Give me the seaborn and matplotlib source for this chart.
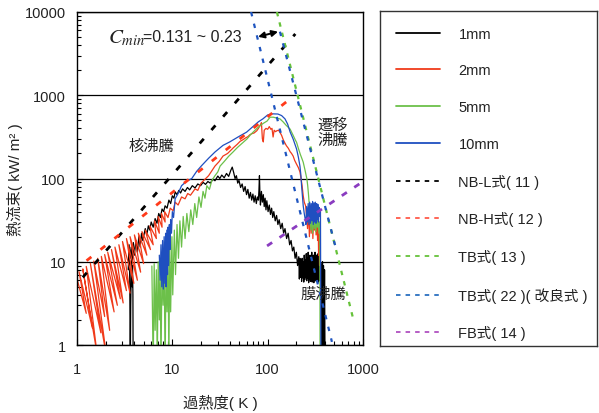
import matplotlib
matplotlib.use("Agg")
import matplotlib.pyplot as plt
import seaborn as sns
import pandas as pd
from matplotlib.lines import Line2D
from matplotlib.ticker import FixedLocator, FixedFormatter, LogLocator, NullFormatter

# ---------------- data ----------------
# experimental boiling curves: (superheat K, heat flux kW/m2)
curve_1mm = [
    (3.88, 0.5), (3.86, 4), (3.82, 9), (3.78, 5), (3.74, 12), (3.7, 7), (3.66, 3), (3.62, 0.5),
    (3.58, 5), (3.55, 10), (3.5, 13), (3.46, 8), (3.52, 16), (3.6, 11), (3.7, 15), (3.8, 10),
    (3.9, 17), (4.0, 12), (4.15, 18), (4.3, 13), (4.45, 20), (4.6, 15), (4.75, 22), (4.9, 18),
    (5.2, 25), (5.4, 21), (5.6, 27), (5.8, 24), (6.0, 30), (6.3, 26), (6.6, 33), (6.9, 29),
    (7.2, 38), (7.5, 34), (7.8, 43), (8.1, 40), (8.4, 47), (8.8, 44), (9.2, 55), (9.6, 50),
    (10.0, 62), (10.4, 58), (10.7, 69), (11.2, 64), (11.7, 72), (12.2, 67), (12.8, 75), (13.6, 70),
    (14.4, 78), (15.2, 73), (16.2, 82), (17.3, 77), (18.5, 86), (19.8, 82), (21, 90), (22.3, 85),
    (23.6, 92), (25, 88), (26.7, 98), (28, 94), (30, 107), (31.5, 100), (33, 110), (35, 102),
    (37, 115), (39, 106), (41, 125), (42.5, 137), (44, 118), (45.5, 100), (47, 108), (48.5, 88),
    (50, 95), (52, 78), (54, 86), (56, 70), (58, 80), (60, 64), (62, 74), (64, 58), (66, 68),
    (68, 55), (70, 65), (72, 52), (74, 62), (76, 50), (78, 60), (80, 55), (81, 72), (82, 108),
    (83, 62), (84, 48), (86, 70), (88, 52), (90, 64), (92, 46), (94, 58), (96, 42), (98, 54),
    (101, 40), (104, 48), (107, 37), (110, 44), (113, 34), (116, 40), (120, 31), (124, 36),
    (128, 28), (132, 32), (137, 25), (142, 29), (147, 22), (152, 25), (158, 19), (164, 22),
    (170, 16), (176, 18), (182, 13.5), (188, 15), (194, 11), (200, 13), (206, 9), (212, 11.5),
    (215, 6.2), (218, 11), (221, 6.5), (224, 10.5), (227, 5.8), (230, 11), (233, 6.4), (236, 10),
    (239, 5.7), (242, 12), (245, 6.1), (248, 10.5), (251, 6.6), (254, 12.5), (257, 5.9), (260, 11),
    (263, 6.3), (266, 13), (269, 5.6), (272, 10), (275, 6.2), (278, 12), (281, 5.8), (284, 11),
    (287, 6.5), (290, 13), (293, 5.7), (296, 10.5), (299, 6.3), (302, 12), (305, 5.6), (308, 11),
    (311, 6.4), (314, 13), (317, 5.9), (320, 10), (323, 6.6), (326, 12), (329, 5.8), (332, 11),
    (335, 6.2), (338, 12.5), (341, 5.7), (344, 10), (347, 6.3), (350, 11), (353, 5.9), (356, 10),
    (359, 6.4), (362, 9.5), (365, 6.0), (368, 9),
    (372, 0.5), (376, 10), (380, 0.5), (385, 9), (390, 0.5), (395, 8), (400, 0.5),
]
curve_2mm = [
    (0.98, 6.8), (1.25, 2.4), (1.05, 7.6), (1.45, 1.6), (1.15, 8.2), (1.62, 0.8), (1.25, 8.8),
    (1.78, 1.4), (1.38, 9.6), (2.05, 0.7), (1.5, 10.2), (1.95, 2.2), (1.65, 11.0), (2.2, 1.5),
    (1.8, 11.6), (2.45, 2.5), (1.95, 12.2), (2.65, 3.0), (2.1, 13.0), (2.85, 3.6), (2.3, 14.0),
    (3.05, 3.2), (2.5, 15.0), (3.3, 4.5), (2.75, 16.0), (3.6, 4.2), (3.0, 17.5), (3.95, 5.5),
    (3.3, 19.0), (4.3, 6.0), (3.6, 20.0), (4.65, 7.5), (4.0, 21.0), (5.0, 9.5), (4.4, 22.0),
    (5.4, 12.0), (4.8, 23.0), (5.9, 14.0), (5.2, 24.0), (6.3, 16.0), (5.8, 27.0), (6.8, 19.0),
    (6.5, 31.0), (7.3, 22.0), (7.1, 35.0), (7.8, 26.0), (7.7, 38.0), (8.4, 30.0), (8.3, 40.0),
    (9.0, 34.0), (9.5, 44), (10.2, 41), (10.7, 52), (11.5, 48), (12.5, 60), (13.6, 57),
    (14.5, 66), (15.5, 63), (17.3, 75), (18.5, 72), (20, 88), (22, 98), (24, 108), (26, 124),
    (28, 141), (31, 160), (34, 186), (38, 200), (40, 212), (44, 236), (48, 258), (51.5, 280),
    (55, 292), (58, 305), (62, 318), (65, 335), (68, 345), (72, 352), (77, 375), (80, 400),
    (83, 430), (86, 470), (88, 300), (90, 275), (92, 380), (96, 400), (100, 390), (104, 420),
    (108, 390), (111, 400), (114, 315), (117, 380), (121, 365), (125, 375), (130, 380),
    (134, 362), (140, 330), (146, 290), (152, 265), (157, 248), (165, 230), (172, 210),
    (178, 200), (185, 186), (192, 165), (200, 150), (210, 135), (218, 120), (224, 100),
    (230, 81), (236, 62), (242, 52), (250, 47), (256, 36),
    (262, 25), (268, 44), (274, 20), (280, 42), (286, 22), (292, 46), (298, 19), (304, 40),
    (310, 24), (316, 45), (322, 21), (328, 38), (334, 18), (338, 42), (342, 12), (346, 30),
    (350, 9),
]
curve_5mm = [
    (6.1, 8.9), (6.3, 0.5), (6.45, 9.5), (6.6, 1.5), (6.8, 8.0), (6.95, 0.5), (7.1, 10.0),
    (7.3, 2.0), (7.45, 9.0), (7.6, 0.5), (7.8, 10.5), (8.0, 3.0), (8.2, 11.0), (8.4, 0.5),
    (8.6, 12.0), (8.8, 2.5), (9.0, 14.0), (9.2, 0.6), (9.4, 17.0), (9.6, 2.5), (9.9, 20.0),
    (10.1, 4.0), (10.5, 24.0), (10.8, 7.0), (11.2, 28.0), (11.6, 11.0), (12.0, 31.0),
    (12.5, 15.0), (13.0, 35.0), (13.6, 19.0), (14.2, 38.0), (14.9, 23.0), (15.6, 42.0),
    (16.4, 28.0), (17.2, 50.0), (18.0, 34.0), (19.0, 60.0), (20.0, 45.0), (21.0, 70.0),
    (22.0, 58.0), (23.0, 82.0), (24.5, 74.0), (26, 95), (28, 108), (30, 120), (31.7, 141),
    (35, 160), (39, 185), (43.3, 208), (48, 235), (54, 265), (60.6, 298), (66, 335), (72, 370),
    (78, 405), (83, 430), (90, 460), (98.6, 490), (106, 545), (115, 545), (125, 530),
    (134.6, 520), (145, 480), (155, 440), (165, 410), (172, 392), (185, 330), (195, 290),
    (201, 272), (210, 230), (220, 195), (228, 175), (236, 157), (245, 130), (252, 112),
    (258, 98.6), (263, 82), (267, 68), (272, 52), (278, 39.7),
    (284, 24), (290, 42), (296, 22), (302, 40), (308, 25), (314, 43), (320, 23), (326, 38),
    (332, 26), (338, 35), (345, 22), (352, 30), (355, 0.5),
]
curve_10mm = [
    (7.3, 12), (7.45, 6), (7.6, 16), (7.75, 5), (7.9, 18), (8.05, 4.7), (8.2, 20), (8.35, 5.5),
    (8.5, 22), (8.6, 5), (8.75, 24), (8.9, 7), (9.0, 26), (9.15, 9), (9.3, 28), (9.45, 14),
    (9.6, 32), (9.8, 22), (10.0, 40), (10.3, 34), (10.7, 57), (11.5, 66), (12.5, 82), (14, 92),
    (16, 100), (18, 122), (20.2, 142), (24, 175), (28, 208), (34, 250), (40, 275), (50, 320),
    (60, 360), (70, 420), (80, 480), (89, 520), (100, 580), (112, 598), (128, 595), (140, 570),
    (152, 520), (162, 450), (172, 362), (185, 298), (201, 226), (210, 180), (218, 141),
    (223, 110), (227, 81), (232, 60), (236, 47), (242, 38), (247, 33),
    (252, 28), (256, 46), (261, 30), (266, 50), (271, 28), (276, 52), (281, 29), (286, 50),
    (291, 31), (296, 53), (301, 28), (306, 51), (311, 30), (316, 52), (321, 29), (326, 50),
    (331, 32), (336, 49), (341, 30), (346, 45), (352, 35), (358, 40), (362, 0.5),
]

# correlation lines (end points)
nbl_x, nbl_y = [1.15, 195], [6.5, 5450]          # NB-L式(11)
nbh_x, nbh_y = [1.26, 172], [10.3, 905]          # NB-H式(12)
tb13_x, tb13_y = [125, 790], [10000, 2.05]       # TB式(13)
tb22a_x, tb22a_y = [67, 472], [10000, 1.09]      # TB式(22) Cmin=0.131
tb22b_x, tb22b_y = [134.5, 522], [5800, 14.2]    # TB式(22) Cmin=0.23
fb_x, fb_y = [98.6, 982], [15.5, 90.8]           # FB式(14)

series_labels = ["1mm", "2mm", "5mm", "10mm"]
line_labels = ["NB-L式( 11 )", "NB-H式( 12 )", "TB式( 13 )", "TB式( 22 )( 改良式 )", "FB式( 14 )"]

x_ticks = [1, 10, 100, 1000]
x_tick_labels = ["1", "10", "100", "1000"]
y_ticks = [1, 10, 100, 1000, 10000]
y_tick_labels = ["1", "10", "100", "1000", "10000"]

# ---------------- style ----------------
sns.set_theme(style="white")
plt.rcParams["font.family"] = ["Liberation Sans", "Noto Sans CJK JP"]
plt.rcParams["mathtext.fontset"] = "stix"
plt.rcParams["axes.unicode_minus"] = False

c_1mm, c_2mm, c_5mm, c_10mm = "#000000", "#f03a1a", "#6cc04a", "#1f4fc0"
c_nbl, c_nbh, c_tb13, c_tb22, c_fb = "#000000", "#ff3a1a", "#66c23a", "#1f55c0", "#8a3cc0"

fig = plt.figure(figsize=(5.99, 4.14), dpi=100)
ax = fig.add_axes([77 / 599, 1 - 346 / 414, 286 / 599, 333 / 414])

curves = [curve_1mm, curve_2mm, curve_5mm, curve_10mm]
colors = [c_1mm, c_2mm, c_5mm, c_10mm]
for pts, lab, col in zip(curves, series_labels, colors):
    df = pd.DataFrame(pts, columns=["x", "y"])
    sns.lineplot(data=df, x="x", y="y", sort=False, estimator=None, color=col,
                 lw=0.9, ax=ax, legend=False)

def dline(xs, ys, col, lw, pat):
    sns.lineplot(x=xs, y=ys, sort=False, estimator=None, color=col, lw=lw,
                 linestyle=(0, pat), ax=ax, legend=False, zorder=5)

dline(nbl_x, nbl_y, c_nbl, 2.0, (2.2, 4.2))
dline(nbh_x, nbh_y, c_nbh, 2.0, (2.2, 4.2))
dline(tb13_x, tb13_y, c_tb13, 1.6, (2.0, 2.8))
dline(tb22a_x, tb22a_y, c_tb22, 1.6, (2.0, 3.4))
dline(tb22b_x, tb22b_y, c_tb22, 1.6, (2.0, 3.4))
dline(fb_x, fb_y, c_fb, 2.0, (2.2, 3.2))

ax.set_xscale("log")
ax.set_yscale("log")
ax.set_xlim(1, 1000)
ax.set_ylim(1, 10000)

ax.xaxis.set_major_locator(FixedLocator(x_ticks))
ax.xaxis.set_major_formatter(FixedFormatter(x_tick_labels))
ax.yaxis.set_major_locator(FixedLocator(y_ticks))
ax.yaxis.set_major_formatter(FixedFormatter(y_tick_labels))
ax.xaxis.set_minor_locator(LogLocator(base=10, subs=range(2, 10)))
ax.yaxis.set_minor_locator(LogLocator(base=10, subs=range(2, 10)))
ax.xaxis.set_minor_formatter(NullFormatter())
ax.yaxis.set_minor_formatter(NullFormatter())
ax.tick_params(which="both", direction="in", left=True, bottom=True, top=False, right=False,
               color="black")
ax.tick_params(which="major", length=4, width=0.8)
ax.tick_params(which="minor", length=3, width=0.8)
ax.tick_params(axis="x", pad=12, labelsize=10.5, labelcolor="#222222")
ax.tick_params(axis="y", pad=8, labelsize=10.5, labelcolor="#222222")
ax.yaxis.grid(True, which="major", color="black", lw=0.9)
ax.xaxis.grid(False)
for s in ax.spines.values():
    s.set_color("black")
    s.set_linewidth(1.0)

ax.set_xlabel("過熱度( K )", fontsize=11, color="#222222")
ax.set_ylabel("熱流束( kW/ m² )", fontsize=11, color="#222222")
ax.xaxis.set_label_coords(0.5, -0.148)
ax.yaxis.set_label_coords(-0.19, 0.5)

# annotations
ax.text(2.1, 5040, r"$C_{min}$", fontsize=15, va="center", ha="left", color="#222222")
ax.text(4.9, 5040, "=0.131 ~ 0.23", fontsize=11.5, va="center", ha="left", color="#222222")
ax.annotate("", xy=(79.3, 5040), xytext=(128.5, 5800),
            arrowprops=dict(arrowstyle="<|-|>", color="black", lw=1.4, mutation_scale=9,
                            shrinkA=0, shrinkB=0), zorder=6)
ax.text(6.0, 246, "核沸騰", fontsize=11, ha="center", va="center", color="#222222")
ax.text(484, 360, "遷移\n沸騰", fontsize=11, ha="center", va="center", color="#222222",
        linespacing=1.15)
ax.text(381, 4.1, "膜沸騰", fontsize=11, ha="center", va="center", color="#222222",
        zorder=7)

# legend box
lax = fig.add_axes([380 / 599, 1 - 347 / 414, 217 / 599, 335 / 414])
lax.set_xticks([])
lax.set_yticks([])
lax.set_facecolor("white")
for s in lax.spines.values():
    s.set_color("#333333")
    s.set_linewidth(1.0)

handles = [Line2D([], [], color=c, lw=1.3) for c in colors]
handles += [Line2D([], [], color=c, lw=1.3, linestyle=(0, (2.5, 2.8)))
            for c in [c_nbl, "#ff5a4a", c_tb13, "#2a70c0", "#b050c0"]]
labels = series_labels + line_labels
lax.legend(handles, labels, loc="upper left", bbox_to_anchor=(0, 1), frameon=False,
           fontsize=10.5, handlelength=3.0, handletextpad=1.3, labelspacing=1.56,
           borderpad=0.4, borderaxespad=0.68, labelcolor="#222222")

fig.savefig("out.png", dpi=100)
